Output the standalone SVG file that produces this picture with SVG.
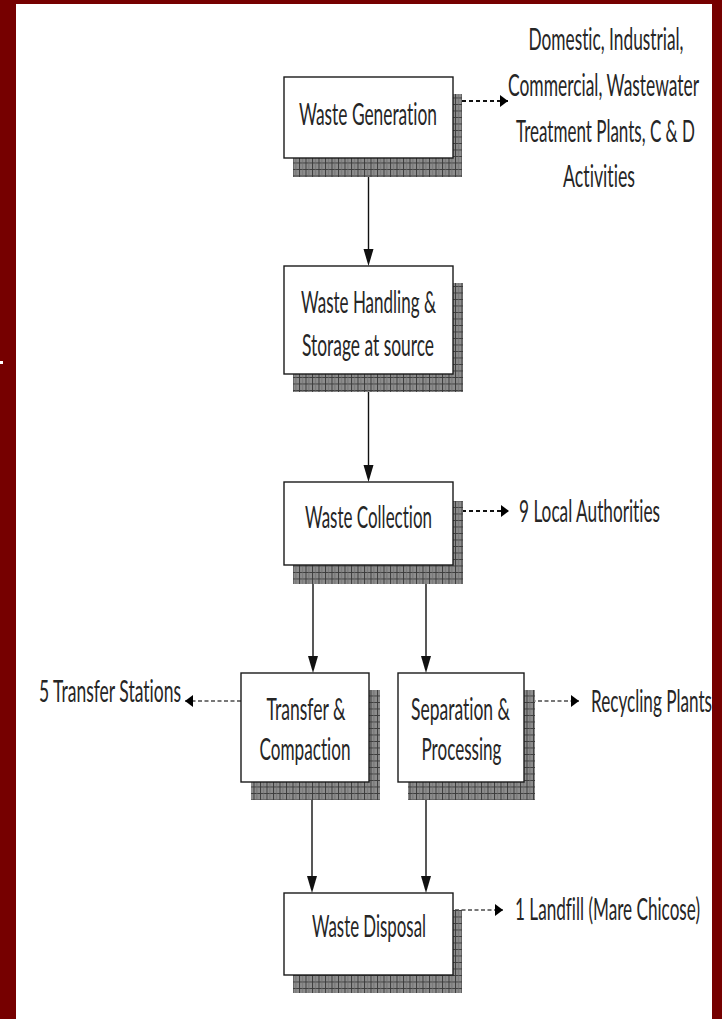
<svg xmlns="http://www.w3.org/2000/svg" width="722" height="1019" viewBox="0 0 722 1019">
<style>
.box{fill:#ffffff;stroke:#1a1a1a;stroke-width:1.4}
.shadow{fill:url(#hatch)}
text{font-family:Lato,"Liberation Sans",sans-serif;font-size:30px;font-weight:400;fill:#262626;font-variant-ligatures:none}
.m{text-anchor:middle}
.solid{stroke:#111;stroke-width:1.4;fill:none}
.head{fill:#111}
.dash{stroke:#111;stroke-width:2;stroke-dasharray:4 3;fill:none;marker-end:url(#small)}
.dashg{stroke:#777;stroke-width:2;stroke-dasharray:4 2.5;fill:none;marker-end:url(#small)}
</style>
<defs>
<pattern id="hatch" width="6.5" height="6.5" patternUnits="userSpaceOnUse">
<rect width="6.5" height="6.5" fill="#8e8e8e"/>
<path d="M0.5 0V6.5M0 0.5H6.5" stroke="#3c3c3c" stroke-width="1"/>
<path d="M3.5 0V6.5" stroke="#6a6a6a" stroke-width="0.8"/>
</pattern>
<marker id="small" viewBox="0 0 8 12" markerWidth="8" markerHeight="12" refX="8" refY="6" orient="auto" markerUnits="userSpaceOnUse">
<path d="M0 0L8 6L0 12z" fill="#000"/>
</marker>
</defs>
<rect x="0" y="0" width="722" height="1019" fill="#ffffff"/>

<g id="connectors">
<path class="solid" d="M368.5 158V250"/>
<path class="head" d="M363.5 249L373.5 249L368.5 266z"/>
<path class="solid" d="M368.5 374V466"/>
<path class="head" d="M363.5 465L373.5 465L368.5 482z"/>
<path class="solid" d="M313 565V657"/>
<path class="head" d="M308 656L318 656L313 673z"/>
<path class="solid" d="M426 565V657"/>
<path class="head" d="M421 656L431 656L426 673z"/>
<path class="solid" d="M312 782V877"/>
<path class="head" d="M307 876L317 876L312 893z"/>
<path class="solid" d="M426 782V877"/>
<path class="head" d="M421 876L431 876L426 893z"/>
<path class="dash" d="M455 101H508"/>
<path class="dash" d="M455 511H509"/>
<path class="dashg" d="M241 701H185"/>
<path class="dashg" d="M525 701H579"/>
<path class="dashg" d="M455 910H503"/>
</g>

<g id="waste-generation">
<rect class="shadow" x="293" y="94" width="169" height="83"/>
<rect class="box" x="284" y="77" width="169" height="81"/>
<text class="m" transform="translate(368,125) scale(0.62,1)" textLength="222.6" lengthAdjust="spacingAndGlyphs">Waste Generation</text>
</g>

<g id="waste-handling">
<rect class="shadow" x="293" y="283" width="170" height="109"/>
<rect class="box" x="284" y="266" width="169" height="108"/>
<text class="m" transform="translate(368.5,313) scale(0.62,1)" textLength="217.7" lengthAdjust="spacingAndGlyphs">Waste Handling &amp;</text>
<text class="m" transform="translate(368,356) scale(0.62,1)" textLength="212.9" lengthAdjust="spacingAndGlyphs">Storage at source</text>
</g>

<g id="waste-collection">
<rect class="shadow" x="293" y="501" width="170" height="83"/>
<rect class="box" x="284" y="482" width="169" height="83"/>
<text class="m" transform="translate(368.5,528) scale(0.62,1)" textLength="204.8" lengthAdjust="spacingAndGlyphs">Waste Collection</text>
</g>

<g id="transfer-compaction">
<rect class="shadow" x="251" y="690" width="129" height="110"/>
<rect class="box" x="241" y="673" width="128" height="109"/>
<text class="m" transform="translate(306,720) scale(0.62,1)" textLength="127.4" lengthAdjust="spacingAndGlyphs">Transfer &amp;</text>
<text class="m" transform="translate(305,760) scale(0.62,1)" textLength="146.8" lengthAdjust="spacingAndGlyphs">Compaction</text>
</g>

<g id="separation-processing">
<rect class="shadow" x="408" y="690" width="127" height="110"/>
<rect class="box" x="398" y="673" width="126" height="109"/>
<text class="m" transform="translate(460.5,720) scale(0.62,1)" textLength="159.7" lengthAdjust="spacingAndGlyphs">Separation &amp;</text>
<text class="m" transform="translate(461.5,760) scale(0.62,1)" textLength="129" lengthAdjust="spacingAndGlyphs">Processing</text>
</g>

<g id="waste-disposal">
<rect class="shadow" x="293" y="910" width="169" height="83"/>
<rect class="box" x="284" y="893" width="169" height="82"/>
<text class="m" transform="translate(369,937) scale(0.62,1)" textLength="183.9" lengthAdjust="spacingAndGlyphs">Waste Disposal</text>
</g>

<g id="sources">
<text class="m" transform="translate(606,50) scale(0.62,1)" textLength="250" lengthAdjust="spacingAndGlyphs">Domestic, Industrial,</text>
<text class="m" transform="translate(603.5,96) scale(0.62,1)" textLength="308.1" lengthAdjust="spacingAndGlyphs">Commercial, Wastewater</text>
<text class="m" transform="translate(605.5,142) scale(0.62,1)" textLength="288.7" lengthAdjust="spacingAndGlyphs">Treatment Plants, C &amp; D</text>
<text class="m" transform="translate(599,187) scale(0.62,1)" textLength="116.1" lengthAdjust="spacingAndGlyphs">Activities</text>
</g>
<g id="local-authorities">
<text transform="translate(519,522) scale(0.62,1)" textLength="227.4" lengthAdjust="spacingAndGlyphs">9 Local Authorities</text>
</g>
<g id="transfer-stations">
<text transform="translate(39,702) scale(0.62,1)" textLength="229" lengthAdjust="spacingAndGlyphs">5 Transfer Stations</text>
</g>
<g id="recycling-plants">
<text transform="translate(591,712) scale(0.62,1)" textLength="195.2" lengthAdjust="spacingAndGlyphs">Recycling Plants</text>
</g>
<g id="landfill">
<text transform="translate(515,920) scale(0.62,1)" textLength="298.4" lengthAdjust="spacingAndGlyphs">1 Landfill (Mare Chicose)</text>
</g>

<g id="frame">
<rect x="0" y="0" width="722" height="4" fill="#760000"/>
<rect x="0" y="0" width="16" height="1019" fill="#760000"/>
<rect x="712" y="0" width="10" height="1019" fill="#760000"/>
<rect x="0" y="361" width="3" height="3" fill="#ffffff"/>
</g>
</svg>
